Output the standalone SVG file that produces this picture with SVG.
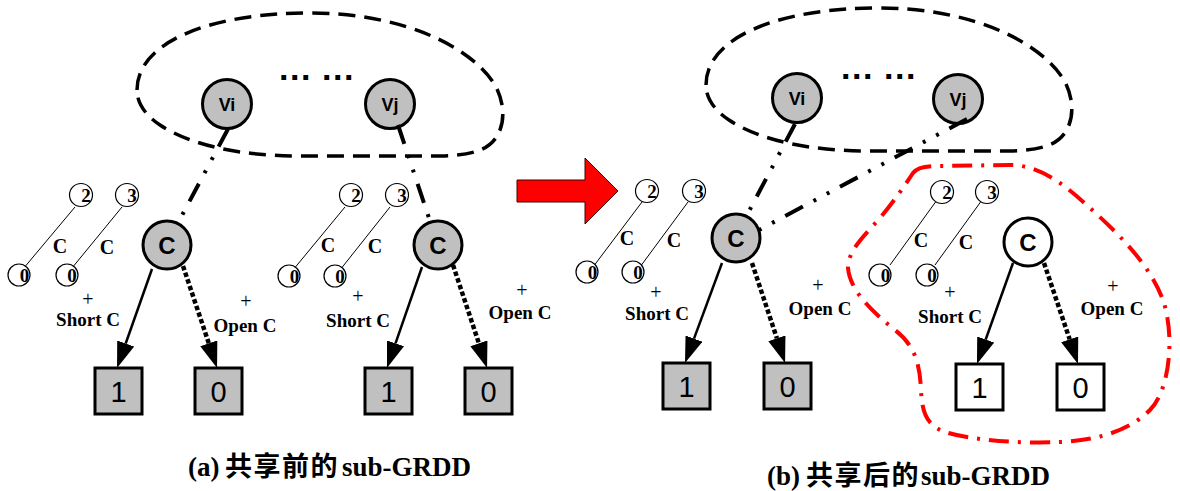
<svg xmlns="http://www.w3.org/2000/svg" width="1180" height="491" viewBox="0 0 1180 491">
  <defs>
    <style>
      .blob { fill: none; stroke: #000; stroke-width: 3.5; stroke-dasharray: 17 9; }
      .share { fill: none; stroke: #ff0000; stroke-width: 4; stroke-dasharray: 20 9 3 9; stroke-linejoin: round; }
      .link { fill: none; stroke: #000; stroke-width: 4; stroke-dasharray: 20 12 3 12 3 12; }
      .hi { stroke: #000; stroke-width: 2.5; marker-end: url(#head); }
      .lo { stroke: #000; stroke-width: 4.5; stroke-dasharray: 4.5 2.5; marker-end: url(#head); }
      .grey { fill: #c0c0c0; stroke: #000; stroke-width: 3; }
      .white { fill: #fff; stroke: #000; stroke-width: 3; }
      .mini line { stroke: #000; stroke-width: 1; }
      .mini circle { fill: #fff; stroke: #000; stroke-width: 1.2; }
      .mini text { font-family: "Liberation Serif", serif; font-weight: bold; font-size: 19px; text-anchor: middle; fill: #000; }
      .mini text.c { font-size: 20px; }
      .var { font-family: "Liberation Sans", Arial, sans-serif; font-weight: bold; font-size: 18px; text-anchor: middle; }
      .cvar { font-family: "Liberation Sans", Arial, sans-serif; font-weight: bold; font-size: 24px; text-anchor: middle; }
      .term { font-family: "Liberation Sans", Arial, sans-serif; font-size: 29px; text-anchor: middle; }
      .note { font-family: "Liberation Serif", serif; font-weight: bold; font-size: 19px; text-anchor: middle; fill: #000; }
      .note .plus { font-weight: normal; font-size: 20px; }
      .dots { font-family: "Liberation Sans", Arial, sans-serif; font-weight: bold; font-size: 34px; letter-spacing: 1.6px; }
      .cap { font-family: "Liberation Serif", "Noto Sans CJK SC", serif; font-weight: bold; font-size: 27px; }
      .cap .han { font-family: "Noto Sans CJK SC", sans-serif; font-size: 27px; letter-spacing: 1.5px; }
    </style>
    <marker id="head" viewBox="0 0 26 18" refX="0" refY="9" markerWidth="26" markerHeight="18" markerUnits="userSpaceOnUse" orient="auto">
      <path d="M0,0 L26,9 L0,18 Z" fill="#000"/>
    </marker>
  </defs>

  <rect width="1180" height="491" fill="#fff"/>

  <!-- dashed outlines around the variable level, and the shared part -->
  <g id="outlines">
    <path id="vars-a" class="blob" d="M137,90 C137,42 210,13 310,13 C400,13 470,45 495,85 C508,108 506,140 480,150 C470,154 455,156 440,156 L300,156 C240,156 190,145 160,125 C145,115 137,103 137,90 Z"/>
    <path id="vars-b" class="blob" transform="translate(569,-5)" d="M137,90 C137,42 210,13 310,13 C400,13 470,45 495,85 C508,108 506,140 480,150 C470,154 455,156 440,156 L300,156 C240,156 190,145 160,125 C145,115 137,103 137,90 Z"/>
    <path id="shared-b" class="share" d="M913,173 C918,166 930,166 940,166 L1010,165 C1040,165 1065,185 1090,208 C1120,235 1150,265 1163,300 C1175,335 1170,390 1150,410 C1130,430 1100,440 1060,442 C1020,444 970,440 945,432 C925,425 922,410 921,390 C920,365 915,345 895,330 C870,310 850,290 848,268 C848,250 865,235 880,218 C895,200 905,185 913,173 Z"/>
  </g>

  <!-- transition arrow -->
  <polygon id="arrow" points="517,180 585,180 585,158 618,191 585,224 585,202 517,202" fill="#ff0000" stroke="#400" stroke-width="1"/>

  <!-- (a) variable nodes -->
  <g id="a-vi"><circle class="grey" cx="227" cy="104" r="24.5"/><text class="var" x="227" y="110.5">Vi</text></g>
  <g id="a-vj"><circle class="grey" cx="390" cy="104" r="24.5"/><text class="var" x="390" y="110.5">Vj</text></g>
  <text id="a-dots" class="dots" y="80"><tspan x="279">...</tspan><tspan x="322">...</tspan></text>

  <!-- (a) first C node and its terminals -->
  <g id="a-c1"><circle class="grey" cx="167" cy="245" r="24"/><text class="cvar" x="167" y="253.5">C</text></g>
  <g id="a-t1-1"><rect class="grey" x="95" y="368" width="47" height="46"/><text class="term" x="118.5" y="402">1</text></g>
  <g id="a-t1-0"><rect class="grey" x="195" y="368" width="47" height="46"/><text class="term" x="218.5" y="402">0</text></g>
  <g id="a-mini1" class="mini">
    <line x1="75" y1="207" x2="23" y2="269"/>
    <line x1="122" y1="207" x2="72" y2="268"/>
    <circle cx="81" cy="195" r="11.5"/><text x="86" y="201.5">2</text>
    <circle cx="127" cy="195" r="11.5"/><text x="132" y="201.5">3</text>
    <circle cx="19" cy="275" r="11"/><text x="24.5" y="281.5">0</text>
    <circle cx="67" cy="275" r="11"/><text x="72" y="281.5">0</text>
    <text class="c" x="60" y="253">C</text>
    <text class="c" x="107" y="254">C</text>
  </g>
  <text id="a-short1" class="note"><tspan class="plus" x="88" y="306">+</tspan><tspan x="88" y="326">Short C</tspan></text>
  <text id="a-open1" class="note"><tspan class="plus" x="246" y="308">+</tspan><tspan x="245" y="332">Open C</tspan></text>

  <!-- (a) second C node and its terminals -->
  <g id="a-c2"><circle class="grey" cx="438" cy="245" r="24"/><text class="cvar" x="438" y="253.5">C</text></g>
  <g id="a-t2-1"><rect class="grey" x="365" y="368" width="47" height="46"/><text class="term" x="388.5" y="402">1</text></g>
  <g id="a-t2-0"><rect class="grey" x="465" y="368" width="47" height="46"/><text class="term" x="488.5" y="402">0</text></g>
  <g id="a-mini2" class="mini">
    <line x1="345" y1="207" x2="293" y2="270"/>
    <line x1="390" y1="207" x2="340" y2="270"/>
    <circle cx="351" cy="195" r="11.5"/><text x="356" y="201.5">2</text>
    <circle cx="397" cy="195" r="11.5"/><text x="402" y="201.5">3</text>
    <circle cx="289" cy="276" r="11"/><text x="294.5" y="282.5">0</text>
    <circle cx="335" cy="276" r="11"/><text x="340" y="282.5">0</text>
    <text class="c" x="328" y="252">C</text>
    <text class="c" x="375" y="253">C</text>
  </g>
  <text id="a-short2" class="note"><tspan class="plus" x="358" y="303">+</tspan><tspan x="358" y="327">Short C</tspan></text>
  <text id="a-open2" class="note"><tspan class="plus" x="522" y="297">+</tspan><tspan x="520" y="319">Open C</tspan></text>

  <!-- (b) variable nodes -->
  <g id="b-vi"><circle class="grey" cx="797" cy="98" r="24.5"/><text class="var" x="797" y="104.5">Vi</text></g>
  <g id="b-vj"><circle class="grey" cx="958" cy="99" r="24.5"/><text class="var" x="958" y="105.5">Vj</text></g>
  <text id="b-dots" class="dots" y="79"><tspan x="841">...</tspan><tspan x="884">...</tspan></text>

  <!-- (b) shared C node -->
  <g id="b-c1"><circle class="grey" cx="736" cy="238" r="24"/><text class="cvar" x="736" y="246.5">C</text></g>
  <g id="b-t1-1"><rect class="grey" x="663" y="363" width="47" height="46"/><text class="term" x="686.5" y="397">1</text></g>
  <g id="b-t1-0"><rect class="grey" x="764" y="363" width="47" height="46"/><text class="term" x="787.5" y="397">0</text></g>
  <g id="b-mini1" class="mini">
    <line x1="642" y1="202" x2="593" y2="267"/>
    <line x1="688" y1="202" x2="640" y2="267"/>
    <circle cx="647" cy="191" r="11.5"/><text x="652" y="197.5">2</text>
    <circle cx="694" cy="191" r="11.5"/><text x="699" y="197.5">3</text>
    <circle cx="587" cy="272" r="11"/><text x="592.5" y="278.5">0</text>
    <circle cx="633" cy="272" r="11"/><text x="638" y="278.5">0</text>
    <text class="c" x="627" y="245">C</text>
    <text class="c" x="674" y="247">C</text>
  </g>
  <text id="b-short1" class="note"><tspan class="plus" x="656" y="299">+</tspan><tspan x="657" y="320">Short C</tspan></text>
  <text id="b-open1" class="note"><tspan class="plus" x="818" y="292">+</tspan><tspan x="820" y="315">Open C</tspan></text>

  <!-- (b) released C node -->
  <g id="b-c2"><circle class="white" cx="1028" cy="242" r="24"/><text class="cvar" x="1028" y="250.5">C</text></g>
  <g id="b-t2-1"><rect class="white" x="956" y="364" width="47" height="46"/><text class="term" x="979.5" y="398">1</text></g>
  <g id="b-t2-0"><rect class="white" x="1057" y="364" width="47" height="46"/><text class="term" x="1080.5" y="398">0</text></g>
  <g id="b-mini2" class="mini">
    <line x1="937" y1="200" x2="890" y2="265"/>
    <line x1="982" y1="200" x2="935" y2="265"/>
    <circle cx="942" cy="192" r="11.5"/><text x="947" y="198.5">2</text>
    <circle cx="987" cy="192" r="11.5"/><text x="992" y="198.5">3</text>
    <circle cx="880" cy="275" r="11"/><text x="885.5" y="281.5">0</text>
    <circle cx="927" cy="275" r="11"/><text x="932" y="281.5">0</text>
    <text class="c" x="921" y="247">C</text>
    <text class="c" x="966" y="249">C</text>
  </g>
  <text id="b-short2" class="note"><tspan class="plus" x="950" y="299">+</tspan><tspan x="950" y="323">Short C</tspan></text>
  <text id="b-open2" class="note"><tspan class="plus" x="1113" y="293">+</tspan><tspan x="1112" y="315">Open C</tspan></text>

  <!-- edges -->
  <g id="connectors">
    <line class="link" x1="228" y1="129" x2="179" y2="221"/>
    <line class="link" x1="398" y1="125" x2="430" y2="221"/>
    <line class="link" x1="795" y1="124" x2="747" y2="215"/>
    <line class="link" x1="967" y1="119" x2="759" y2="230"/>

    <line class="hi" x1="152" y1="269" x2="125.7" y2="343.5"/>
    <line class="lo" x1="183" y1="266" x2="208.8" y2="343.3"/>
    <line class="hi" x1="422" y1="267" x2="395.5" y2="343.4"/>
    <line class="lo" x1="453" y1="265" x2="478.9" y2="343.3"/>
    <line class="hi" x1="722" y1="263" x2="694" y2="338.6"/>
    <line class="lo" x1="752" y1="263" x2="776.9" y2="338.3"/>
    <line class="hi" x1="1013" y1="263" x2="985.7" y2="339.5"/>
    <line class="lo" x1="1044" y1="263" x2="1069.7" y2="339.4"/>
  </g>

  <!-- captions -->
  <g id="captions">
    <text class="cap" y="476"><tspan x="188">(a) </tspan><tspan class="han" x="225">共享前的</tspan><tspan x="342">sub-GRDD</tspan></text>
    <text class="cap" y="485"><tspan x="767">(b) </tspan><tspan class="han" x="806">共享后的</tspan><tspan x="921">sub-GRDD</tspan></text>
  </g>
</svg>
